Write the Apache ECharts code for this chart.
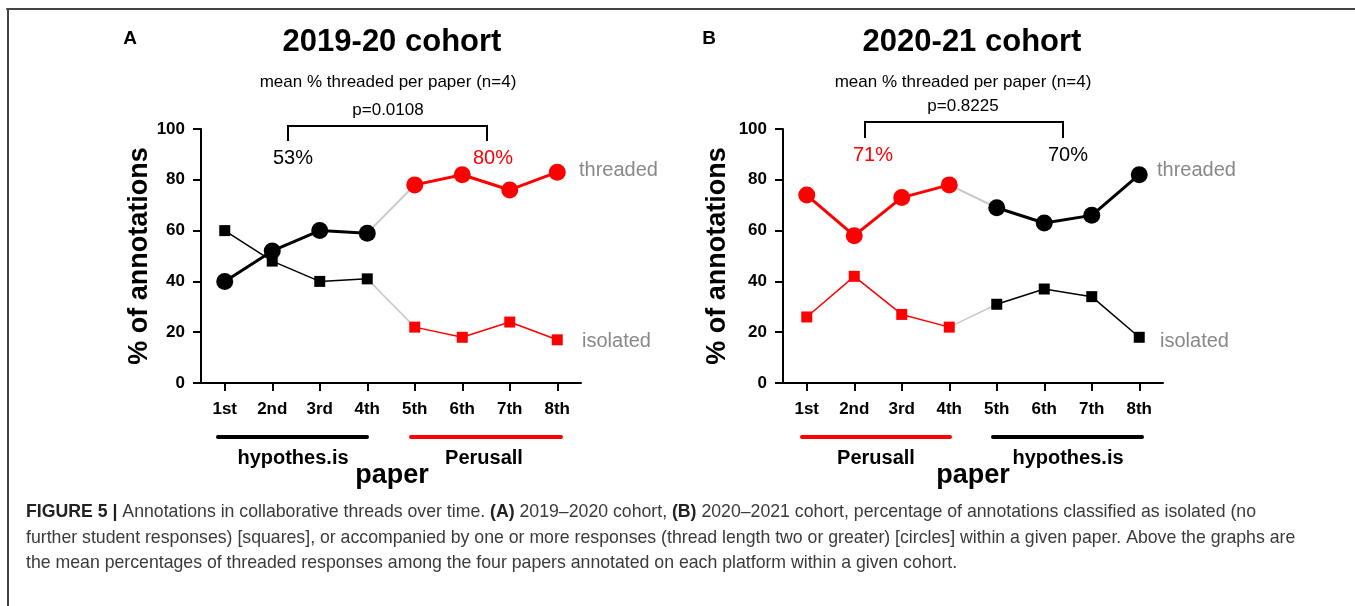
<!DOCTYPE html>
<html><head><meta charset="utf-8">
<script src="https://cdn.jsdelivr.net/npm/echarts@6/dist/echarts.min.js"></script>
<style>html,body{margin:0;padding:0;background:#fff}#c{width:1355px;height:606px}</style>
</head><body><div id="c"></div>
<script>
// ---- data ----
const papers = ['1st','2nd','3rd','4th','5th','6th','7th','8th'];
const yTicks = [0,20,40,60,80,100];
const threadedA = [40,52,60,59,78,82,76,83];
const isolatedA = [60,48,40,41,22,18,24,17];
const threadedB = [74,58,73,78,69,63,66,82];
const isolatedB = [26,42,27,22,31,37,34,18];
const platformsA = ['hypothes.is','Perusall'];
const platformsB = ['Perusall','hypothes.is'];
const meansA = ['53%','80%'];
const meansB = ['71%','70%'];
const pA = 'p=0.0108', pB = 'p=0.8225';

const RED = '#ff0000', BLK = '#000000', GRY = '#c8c8c8';
const F = '"Liberation Sans", Arial, sans-serif';

function part(arr, idx){ return arr.map((v,i)=> idx.includes(i) ? v : null); }
const first = [0,1,2,3], conn = [3,4], last = [4,5,6,7];

function panelSeries(k, thr, iso, c1, c2){
  const s = [];
  const base = {type:'line', xAxisIndex:k, yAxisIndex:k, connectNulls:false, animation:false, silent:true};
  s.push(Object.assign({}, base, {data:part(thr,conn), showSymbol:false, symbol:'none', lineStyle:{color:GRY,width:2}, z:1}));
  s.push(Object.assign({}, base, {data:part(iso,conn), showSymbol:false, symbol:'none', lineStyle:{color:GRY,width:1.5}, z:1}));
  s.push(Object.assign({}, base, {data:part(iso,first), symbol:'rect', symbolSize:11, itemStyle:{color:c1}, lineStyle:{color:c1,width:1.5}, z:2}));
  s.push(Object.assign({}, base, {data:part(iso,last), symbol:'rect', symbolSize:11, itemStyle:{color:c2}, lineStyle:{color:c2,width:1.5}, z:2}));
  s.push(Object.assign({}, base, {data:part(thr,first), symbol:'circle', symbolSize:17, itemStyle:{color:c1}, lineStyle:{color:c1,width:3}, z:3}));
  s.push(Object.assign({}, base, {data:part(thr,last), symbol:'circle', symbolSize:17, itemStyle:{color:c2}, lineStyle:{color:c2,width:3}, z:3}));
  return s;
}

function yAx(k){
  return {type:'value', gridIndex:k, min:yTicks[0], max:yTicks[yTicks.length-1], interval:yTicks[1]-yTicks[0],
    axisLine:{show:true, lineStyle:{color:'#000', width:2}},
    axisTick:{show:true, length:8, lineStyle:{color:'#000', width:2}},
    axisLabel:{color:'#000', fontFamily:F, fontWeight:'bold', fontSize:17, margin:16},
    splitLine:{show:false}};
}
function xAx(k){
  return {type:'category', gridIndex:k, data:papers, boundaryGap:true,
    axisLine:{show:true, lineStyle:{color:'#000', width:2}},
    axisTick:{show:true, alignWithLabel:true, length:8, lineStyle:{color:'#000', width:2}},
    axisLabel:{color:'#000', fontFamily:F, fontWeight:'bold', fontSize:17, margin:18}};
}

function txt(x,y,text,size,opts){
  opts = opts||{};
  return {type:'text', x:x, y:y, rotation:opts.rot||0, z:10, silent:true,
    style:{text:text, fill:opts.color||'#000', font:(opts.bold?'bold ':'')+size+'px '+F,
      textAlign:opts.align||'center', textVerticalAlign:'middle'}};
}
function hline(x1,x2,y,color,w){ return {type:'line', silent:true, shape:{x1:x1,y1:y,x2:x2,y2:y}, style:{stroke:color,lineWidth:w,lineCap:'round'}}; }
function bracket(x1,x2,yt,yb){ return {type:'polyline', silent:true, shape:{points:[[x1,yb],[x1,yt],[x2,yt],[x2,yb]]}, style:{stroke:'#000',lineWidth:2,fill:null}}; }

const CAP = 17.7;
const graphics = [
  // frame
  hline(7,1355,9,'#444',2),
  {type:'line', silent:true, shape:{x1:8,y1:9,x2:8,y2:606}, style:{stroke:'#444',lineWidth:2}},
  // panel A
  txt(130,39,'A',19,{bold:true}),
  txt(392,42,'2019-20 cohort',31,{bold:true}),
  txt(388,82,'mean % threaded per paper (n=4)',17),
  txt(388,110,pA,17),
  bracket(288,487,126,141),
  txt(293,158,meansA[0],20),
  txt(493,158,meansA[1],20,{color:RED}),
  txt(579,170,'threaded',20,{color:'#888',align:'left'}),
  txt(582,341,'isolated',20,{color:'#888',align:'left'}),
  txt(140,256,'% of annotations',27,{bold:true,rot:Math.PI/2}),
  hline(218,367,437,BLK,4),
  hline(411,561,437,RED,4),
  txt(293,458,platformsA[0],20,{bold:true}),
  txt(484,458,platformsA[1],20,{bold:true}),
  txt(392,476,'paper',27,{bold:true}),
  // panel B
  txt(709,39,'B',19,{bold:true}),
  txt(972,42,'2020-21 cohort',31,{bold:true}),
  txt(963,82,'mean % threaded per paper (n=4)',17),
  txt(963,106,pB,17),
  bracket(865,1063,122,138),
  txt(873,155,meansB[0],20,{color:RED}),
  txt(1068,155,meansB[1],20),
  txt(1157,170,'threaded',20,{color:'#888',align:'left'}),
  txt(1160,341,'isolated',20,{color:'#888',align:'left'}),
  txt(718,256,'% of annotations',27,{bold:true,rot:Math.PI/2}),
  hline(802,950,437,RED,4),
  hline(993,1142,437,BLK,4),
  txt(876,458,platformsB[0],20,{bold:true}),
  txt(1068,458,platformsB[1],20,{bold:true}),
  txt(973,476,'paper',27,{bold:true}),
  // caption
  {type:'text', x:26, y:512, silent:true, style:{
    text:'{b|FIGURE 5 |} Annotations in collaborative threads over time. {b|(A)} 2019–2020 cohort, {b|(B)} 2020–2021 cohort, percentage of annotations classified as isolated (no',
    font:CAP+'px '+F, fill:'#3a3a3a', textVerticalAlign:'middle',
    rich:{b:{fontWeight:'bold', fontSize:CAP, fontFamily:F, fill:'#222'}}}},
  {type:'text', x:26, y:538, silent:true, style:{
    text:'further student responses) [squares], or accompanied by one or more responses (thread length two or greater) [circles] within a given paper. Above the graphs are',
    font:CAP+'px '+F, fill:'#3a3a3a', textVerticalAlign:'middle'}},
  {type:'text', x:26, y:563, silent:true, style:{
    text:'the mean percentages of threaded responses among the four papers annotated on each platform within a given cohort.',
    font:CAP+'px '+F, fill:'#3a3a3a', textVerticalAlign:'middle'}}
];

const chart = echarts.init(document.getElementById('c'), null, {renderer:'canvas'});
chart.setOption({
  animation:false,
  backgroundColor:'#fff',
  grid:[
    {left:201, width:380, top:129, bottom:223},
    {left:783, width:380, top:129, bottom:223}
  ],
  xAxis:[xAx(0), xAx(1)],
  yAxis:[yAx(0), yAx(1)],
  series:[].concat(panelSeries(0,threadedA,isolatedA,BLK,RED), panelSeries(1,threadedB,isolatedB,RED,BLK)),
  graphic:graphics
});
</script></body></html>
